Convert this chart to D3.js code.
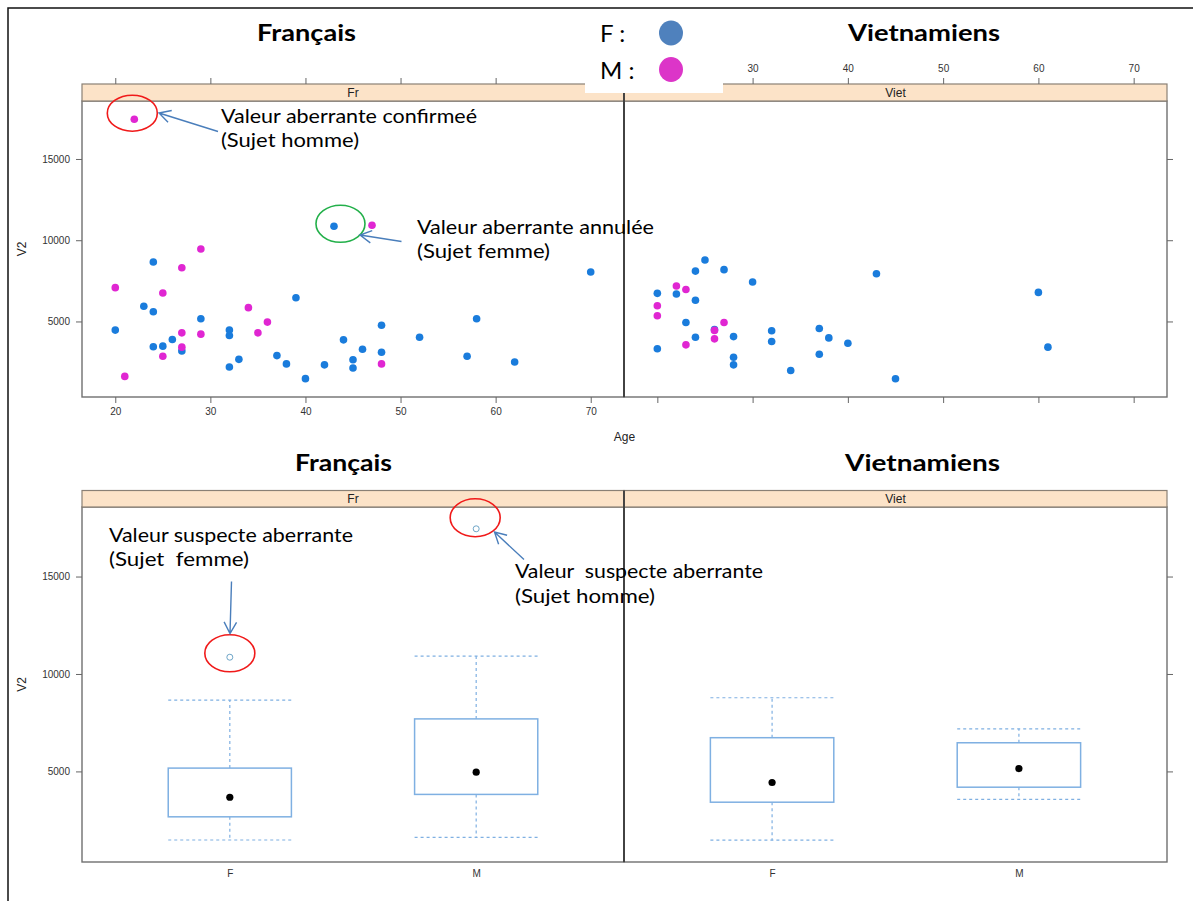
<!DOCTYPE html>
<html><head><meta charset="utf-8">
<script src="https://cdn.jsdelivr.net/npm/d3@7"></script>
<style>body{margin:0;background:#fff} svg{display:block}</style>
</head><body>
<script>
// ---------------- DATA ----------------
const groups = ["Fr", "Viet"];
const sexLevels = ["F", "M"];
const sexColors = ["#1a7cdc", "#e026d2"];
const legendColors = ["#4f81bd", "#dc35c8"];
const legendLabels = ["F :", "M :"];
const panelTitles = ["Français", "Vietnamiens"];

// Français : age, V2, sexe
const frAge = [22, 43, 29, 24, 27, 20, 25, 39, 23, 34, 24, 29, 36, 20, 32, 32, 27, 29, 35, 26, 24, 25, 27, 27, 25, 44, 37, 33, 38, 32, 42, 40, 21, 45, 45, 47, 70, 58, 48, 52, 46, 48, 48, 57, 62];
const frV2  = [17450, 10860, 9460, 8660, 8310, 7080, 6750, 6460, 5940, 5850, 5600, 5170, 4960, 4470, 4470, 4140, 4300, 4220, 4300, 3890, 3440, 3480, 3420, 3190, 2860, 3870, 2900, 2670, 2390, 2200, 2330, 1480, 1620, 2640, 2140, 10920, 8040, 5170, 4770, 4030, 3290, 3110, 2390, 2860, 2510];
const frSex = ["M","F","M","F","M","M","M","F","F","M","F","F","M","F","F","F","M","M","M","F","F","F","M","F","M","F","F","F","F","F","F","F","M","F","F","M","F","F","F","F","F","F","M","F","F"];

// Vietnamiens : age, V2, sexe
const vietAge = [25, 24, 27, 30, 22, 23, 20, 22, 24, 20, 20, 23, 27, 26, 26, 26, 24, 28, 32, 32, 23, 20, 28, 28, 34, 37, 38, 40, 37, 43, 45, 60, 61];
const vietV2  = [8780, 8100, 8190, 7430, 7180, 6970, 6730, 6690, 6310, 5970, 5350, 4940, 4940, 4500, 4450, 3930, 4030, 4070, 4430, 3770, 3560, 3320, 2800, 2330, 1980, 4570, 3990, 3660, 2980, 7940, 1470, 6790, 3420];
const vietSex = ["F","F","F","F","M","M","F","F","F","M","M","F","M","F","M","M","F","F","F","F","M","F","F","F","F","F","F","F","F","F","F","F","F"];

const ageTicks = [20, 30, 40, 50, 60, 70];
const v2Ticks = [5000, 10000, 15000];

// ---------------- LAYOUT ----------------
const W = 1193, H = 901;
const L = 82, MID = 624, R = 1167;
const TOP = {strip: 84, y0: 101, y1: 397};
const BOT = {strip: 490.5, y0: 507, y1: 862};
const panelX = {Fr: [L, MID], Viet: [MID, R]};
const dataOf = {
  Fr: frAge.map((a, i) => ({age: a, v: frV2[i], sex: frSex[i]})),
  Viet: vietAge.map((a, i) => ({age: a, v: vietV2[i], sex: vietSex[i]}))
};

const svg = d3.select("body").append("svg").attr("width", W).attr("height", H);
const ext = (e, f = 0.07) => { const r = e[1] - e[0]; return [e[0] - f * r, e[1] + f * r]; };
const yDom = ext(d3.extent(frV2.concat(vietV2)));
const xDom = ext(d3.extent(frAge.concat(vietAge)));

const FRAME = "#707070", TXT = "#333", AX = "Liberation Sans, Arial, sans-serif";
const LAT = "Lato, 'Open Sans', sans-serif";
const fmt = d3.format("d");

function styleAxis(g, labels) {
  g.select(".domain").remove();
  g.selectAll(".tick line").attr("stroke", "#666").attr("stroke-width", 1);
  g.selectAll(".tick text").attr("fill", TXT).style("font-family", AX).style("font-size", "10px");
  if (!labels) g.selectAll(".tick text").remove();
}

function strip(y, y2, x0, x1, label) {
  svg.append("rect").attr("x", x0).attr("y", y).attr("width", x1 - x0).attr("height", y2 - y)
    .attr("fill", "#fce3c8").attr("stroke", "#8a8075").attr("stroke-width", 1.2);
  svg.append("text").attr("x", (x0 + x1) / 2).attr("y", (y + y2) / 2 + 4.5)
    .attr("text-anchor", "middle").style("font-family", AX).style("font-size", "12px").attr("fill", "#222").text(label);
}

// ---------------- TOP : scatter ----------------
const yTop = d3.scaleLinear().domain(yDom).range([TOP.y1, TOP.y0]);
const xScales = {};
groups.forEach((gname, gi) => {
  const [x0, x1] = panelX[gname];
  const x = d3.scaleLinear().domain(xDom).range([x0, x1]);
  xScales[gname] = x;
  svg.append("rect").attr("x", x0).attr("y", TOP.y0).attr("width", x1 - x0).attr("height", TOP.y1 - TOP.y0)
    .attr("fill", "none").attr("stroke", FRAME).attr("stroke-width", 1.4);
  strip(TOP.strip, TOP.y0, x0, x1, gname);
  svg.append("g").attr("transform", `translate(0,${TOP.y1})`)
    .call(d3.axisBottom(x).tickValues(ageTicks).tickSize(6).tickPadding(5)).call(g => styleAxis(g, gi === 0));
  svg.append("g").attr("transform", `translate(0,${TOP.strip})`)
    .call(d3.axisTop(x).tickValues(ageTicks).tickSize(6).tickPadding(6)).call(g => styleAxis(g, gi === 1));
  sexLevels.forEach((s, si) => {
    svg.append("g").selectAll("circle").data(dataOf[gname].filter(d => d.sex === s)).join("circle")
      .attr("cx", d => x(d.age)).attr("cy", d => yTop(d.v)).attr("r", 3.8).attr("fill", sexColors[si]);
  });
});
svg.append("g").attr("transform", `translate(${L},0)`)
  .call(d3.axisLeft(yTop).tickValues(v2Ticks).tickFormat(fmt).tickSize(6).tickPadding(6)).call(g => styleAxis(g, true));
svg.append("g").attr("transform", `translate(${R},0)`)
  .call(d3.axisRight(yTop).tickValues(v2Ticks).tickSize(6)).call(g => styleAxis(g, false));
svg.append("line").attr("x1", MID).attr("x2", MID).attr("y1", TOP.strip).attr("y2", TOP.y1).attr("stroke", "#3c3c3c").attr("stroke-width", 1.8);
svg.append("text").attr("x", (L + R) / 2).attr("y", 441).attr("text-anchor", "middle")
  .style("font-family", AX).style("font-size", "12px").attr("fill", "#222").text("Age");
svg.append("text").attr("transform", `translate(26,${(TOP.y0 + TOP.y1) / 2}) rotate(-90)`).attr("text-anchor", "middle")
  .style("font-family", AX).style("font-size", "12px").attr("fill", "#222").text("V2");

// ---------------- BOTTOM : boxplots ----------------
function fivenum(v) {
  const s = v.slice().sort(d3.ascending), n = s.length;
  const n4 = Math.floor((n + 3) / 2) / 2;
  return [1, n4, (n + 1) / 2, n + 1 - n4, n].map(i => 0.5 * (s[Math.floor(i) - 1] + s[Math.ceil(i) - 1]));
}
function boxStats(v) {
  const f = fivenum(v), iqr = f[3] - f[1];
  const lo = f[1] - 1.5 * iqr, hi = f[3] + 1.5 * iqr;
  const inside = v.filter(d => d >= lo && d <= hi);
  return {q1: f[1], med: f[2], q3: f[3], wlo: d3.min(inside), whi: d3.max(inside), out: v.filter(d => d < lo || d > hi)};
}
const yBot = d3.scaleLinear().domain(yDom).range([BOT.y1, BOT.y0]);
const BOXC = "#7fb0e2";
const catX = {};
groups.forEach((gname, gi) => {
  const [x0, x1] = panelX[gname];
  const xc = d3.scalePoint().domain(sexLevels).range([x0, x1]).padding(0.6);
  catX[gname] = xc;
  const bw = xc.step() * 0.5;
  svg.append("rect").attr("x", x0).attr("y", BOT.y0).attr("width", x1 - x0).attr("height", BOT.y1 - BOT.y0)
    .attr("fill", "none").attr("stroke", FRAME).attr("stroke-width", 1.4);
  strip(BOT.strip, BOT.y0, x0, x1, gname);
  svg.append("g").attr("transform", `translate(0,${BOT.y1})`)
    .call(d3.axisBottom(xc).tickSize(0).tickPadding(8)).call(g => styleAxis(g, true));
  sexLevels.forEach(s => {
    const st = boxStats(dataOf[gname].filter(d => d.sex === s).map(d => d.v));
    const cx = xc(s);
    const g = svg.append("g");
    const dash = "3,3";
    [[st.q3, st.whi], [st.q1, st.wlo]].forEach(([a, b]) => {
      g.append("line").attr("x1", cx).attr("x2", cx).attr("y1", yBot(a)).attr("y2", yBot(b))
        .attr("stroke", BOXC).attr("stroke-width", 1.2).attr("stroke-dasharray", dash);
      g.append("line").attr("x1", cx - bw / 2).attr("x2", cx + bw / 2).attr("y1", yBot(b)).attr("y2", yBot(b))
        .attr("stroke", BOXC).attr("stroke-width", 1.2).attr("stroke-dasharray", dash);
    });
    g.append("rect").attr("x", cx - bw / 2).attr("width", bw).attr("y", yBot(st.q3)).attr("height", yBot(st.q1) - yBot(st.q3))
      .attr("fill", "#fff").attr("stroke", BOXC).attr("stroke-width", 1.5);
    g.append("circle").attr("cx", cx).attr("cy", yBot(st.med)).attr("r", 3.6).attr("fill", "#000");
    g.selectAll(".o").data(st.out).join("circle").attr("cx", cx).attr("cy", d => yBot(d)).attr("r", 3)
      .attr("fill", "none").attr("stroke", "#6fa6c8").attr("stroke-width", 1);
  });
});
svg.append("g").attr("transform", `translate(${L},0)`)
  .call(d3.axisLeft(yBot).tickValues(v2Ticks).tickFormat(fmt).tickSize(6).tickPadding(6)).call(g => styleAxis(g, true));
svg.append("g").attr("transform", `translate(${R},0)`)
  .call(d3.axisRight(yBot).tickValues(v2Ticks).tickSize(6)).call(g => styleAxis(g, false));
svg.append("line").attr("x1", MID).attr("x2", MID).attr("y1", BOT.strip).attr("y2", BOT.y1).attr("stroke", "#3c3c3c").attr("stroke-width", 1.8);
svg.append("text").attr("transform", `translate(26,${(BOT.y0 + BOT.y1) / 2}) rotate(-90)`).attr("text-anchor", "middle")
  .style("font-family", AX).style("font-size", "12px").attr("fill", "#222").text("V2");

// ---------------- TITLES ----------------
function bigText(x, y, txt, len, size, weight) {
  svg.append("text").attr("x", x).attr("y", y).attr("textLength", len).attr("lengthAdjust", "spacingAndGlyphs")
    .style("font-family", LAT).style("font-size", size + "px").style("font-weight", weight)
    .style("white-space", "pre").attr("fill", "#000").text(txt);
}
bigText(257, 41, panelTitles[0], 99, 22, 700);
bigText(848, 41, panelTitles[1], 152, 22, 700);
bigText(295, 471, panelTitles[0], 97, 22, 700);
bigText(845, 471, panelTitles[1], 155, 22, 700);

// ---------------- ANNOTATIONS ----------------
const ARC = "#4a7ebb";
function arrow(x1, y1, x2, y2) {
  const a = Math.atan2(y2 - y1, x2 - x1), len = 13, w = 0.5;
  svg.append("path").attr("d",
    `M${x1},${y1}L${x2},${y2}M${x2 - len * Math.cos(a - w)},${y2 - len * Math.sin(a - w)}L${x2},${y2}L${x2 - len * Math.cos(a + w)},${y2 - len * Math.sin(a + w)}`)
    .attr("fill", "none").attr("stroke", ARC).attr("stroke-width", 1.4);
}
function ring(cx, cy, rx, ry, col) {
  svg.append("ellipse").attr("cx", cx).attr("cy", cy).attr("rx", rx).attr("ry", ry)
    .attr("fill", "none").attr("stroke", col).attr("stroke-width", 1.6);
}
const frMaxM = dataOf.Fr.filter(d => d.sex === "M").reduce((a, b) => a.v > b.v ? a : b);
const frMaxF = dataOf.Fr.filter(d => d.sex === "F").reduce((a, b) => a.v > b.v ? a : b);
ring(xScales.Fr(frMaxM.age) - 2, yTop(frMaxM.v) - 6, 25, 18, "#f01a1a");
ring(xScales.Fr(frMaxF.age) + 6.5, yTop(frMaxF.v) - 2.5, 24.5, 18.5, "#23b04a");
arrow(218, 131.5, 159, 113);
arrow(401.5, 241.5, 360, 235);
bigText(221, 123, "Valeur aberrante confirmeé", 256, 20, 400);
bigText(221, 147, "(Sujet homme)", 138, 20, 400);
bigText(417, 234, "Valeur aberrante annulée", 237, 20, 400);
bigText(417, 258, "(Sujet femme)", 133, 20, 400);
const outF = boxStats(dataOf.Fr.filter(d => d.sex === "F").map(d => d.v)).out[0];
const outM = boxStats(dataOf.Fr.filter(d => d.sex === "M").map(d => d.v)).out[0];
ring(catX.Fr("F"), yBot(outF) - 4, 25, 18.5, "#f01a1a");
ring(catX.Fr("M") - 1, yBot(outM) - 11, 25, 19, "#f01a1a");
arrow(231.5, 581.5, 230, 633.5);
arrow(524, 559.5, 494.5, 532);
bigText(109, 542, "Valeur suspecte aberrante", 244, 20, 400);
bigText(109, 566, "(Sujet  femme)", 140, 20, 400);
bigText(515, 578, "Valeur  suspecte aberrante", 248, 20, 400);
bigText(515, 603, "(Sujet homme)", 140, 20, 400);

// ---------------- LEGEND ----------------
svg.append("rect").attr("x", 585).attr("y", 8).attr("width", 138).attr("height", 85).attr("fill", "#fff");
legendLabels.forEach((lab, i) => {
  const cy = 33 + i * 36.5;
  svg.append("text").attr("x", 600).attr("y", cy + 9).style("font-family", LAT).style("font-size", "24px").attr("fill", "#000").text(lab);
  svg.append("ellipse").attr("cx", 671).attr("cy", cy).attr("rx", 12).attr("ry", 12.5).attr("fill", legendColors[i]);
});

// ---------------- OUTER BORDER ----------------
svg.append("path").attr("d", `M8,${H}V8H${W}`).attr("fill", "none").attr("stroke", "#111").attr("stroke-width", 1.5);
</script>
</body></html>
